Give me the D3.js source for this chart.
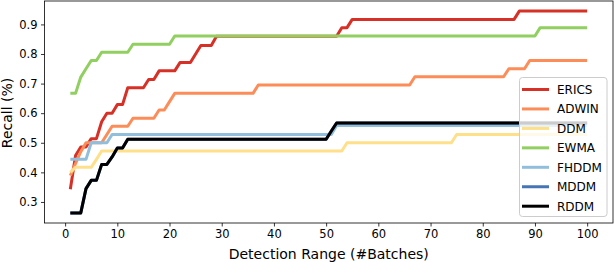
<!DOCTYPE html>
<html><head><meta charset="utf-8">
<script src="https://cdn.jsdelivr.net/npm/d3@7"></script>
<style>body{margin:0;background:#fff}svg{display:block;font-family:"DejaVu Sans",sans-serif}</style>
</head><body><svg id="c" width="614" height="262"></svg>
<script>
const seriesNames = ["ERICS","ADWIN","DDM","EWMA","FHDDM","MDDM","RDDM"];
const seriesColors = ["#d73027","#fc8d59","#fee08b","#91cf60","#91bfdb","#4575b4","#000000"];
const xTicks = [0,10,20,30,40,50,60,70,80,90,100];
const yTicks = [0.3,0.4,0.5,0.6,0.7,0.8,0.9];
const batches = [1,2,3,4,5,6,7,8,9,10,11,12,13,14,15,16,17,18,19,20,21,22,23,24,25,26,27,28,29,30,31,32,33,34,35,36,37,38,39,40,41,42,43,44,45,46,47,48,49,50,51,52,53,54,55,56,57,58,59,60,61,62,63,64,65,66,67,68,69,70,71,72,73,74,75,76,77,78,79,80,81,82,83,84,85,86,87,88,89,90,91,92,93,94,95,96,97,98,99,100];

const erics = [.343,.457,.486,.486,.514,.514,.571,.600,.600,.629,
 .629,.686,.686,.686,.686,.714,.714,.743,.743,.743,
 .743,.771,.771,.771,.800,.829,.829,.829,.860,.860,
 .860,.860,.860,.860,.860,.860,.860,.860,.860,.860,
 .860,.860,.860,.860,.860,.860,.860,.860,.860,.860,
 .860,.860,.889,.889,.917,.917,.917,.917,.917,.917,
 .917,.917,.917,.917,.917,.917,.917,.917,.917,.917,
 .917,.917,.917,.917,.917,.917,.917,.917,.917,.917,
 .917,.917,.917,.917,.917,.917,.945,.945,.945,.945,
 .945,.945,.945,.945,.945,.945,.945,.945,.945,.945];
const adwin = [.389,.430,.470,.500,.500,.500,.500,.528,.556,.556,
 .556,.556,.583,.583,.583,.583,.583,.611,.611,.639,
 .667,.667,.667,.667,.667,.667,.667,.667,.667,.667,
 .667,.667,.667,.667,.667,.667,.695,.695,.695,.695,
 .695,.695,.695,.695,.695,.695,.695,.695,.695,.695,
 .695,.695,.695,.695,.695,.695,.695,.695,.695,.695,
 .695,.695,.695,.695,.695,.695,.723,.723,.723,.723,
 .723,.723,.723,.723,.723,.723,.723,.723,.723,.723,
 .723,.723,.723,.723,.750,.750,.750,.750,.778,.778,
 .778,.778,.778,.778,.778,.778,.778,.778,.778,.778];
const ddm = [.400,.417,.417,.417,.417,.444,.472,.472,.472,.472,
 .472,.472,.472,.472,.472,.472,.472,.472,.472,.472,
 .472,.472,.472,.472,.472,.472,.472,.472,.472,.472,
 .472,.472,.472,.472,.472,.472,.472,.472,.472,.472,
 .472,.472,.472,.472,.472,.472,.472,.472,.472,.472,
 .472,.472,.472,.500,.500,.500,.500,.500,.500,.500,
 .500,.500,.500,.500,.500,.500,.500,.500,.500,.500,
 .500,.500,.500,.500,.528,.528,.528,.528,.528,.528,
 .528,.528,.528,.528,.528,.528,.528,.528,.528,.528,
 .528,.528,.528,.528,.528,.528,.528,.528,.528,.528];
const ewma = [.667,.667,.722,.750,.778,.778,.806,.806,.806,.806,
 .806,.806,.833,.833,.833,.833,.833,.833,.833,.833,
 .861,.861,.861,.861,.861,.861,.861,.861,.861,.861,
 .861,.861,.861,.861,.861,.861,.861,.861,.861,.861,
 .861,.861,.861,.861,.861,.861,.861,.861,.861,.861,
 .861,.861,.861,.861,.861,.861,.861,.861,.861,.861,
 .861,.861,.861,.861,.861,.861,.861,.861,.861,.861,
 .861,.861,.861,.861,.861,.861,.861,.861,.861,.861,
 .861,.861,.861,.861,.861,.861,.861,.861,.861,.861,
 .889,.889,.889,.889,.889,.889,.889,.889,.889,.889];
const fhddm = [.444,.444,.444,.444,.500,.500,.500,.500,.528,.528,
 .528,.528,.528,.528,.528,.528,.528,.528,.528,.528,
 .528,.528,.528,.528,.528,.528,.528,.528,.528,.528,
 .528,.528,.528,.528,.528,.528,.528,.528,.528,.528,
 .528,.528,.528,.528,.528,.528,.528,.528,.528,.528,
 .528,.558,.558,.558,.558,.558,.558,.558,.558,.558,
 .558,.558,.558,.558,.558,.558,.558,.558,.558,.558,
 .558,.558,.558,.558,.558,.558,.558,.558,.558,.558,
 .558,.558,.558,.558,.558,.558,.558,.558,.558,.558,
 .558,.558,.558,.558,.558,.558,.558,.558,.558,.558];
const mddm = [.263,.263,.263,.345,.373,.373,.427,.427,.452,.482,
 .482,.512,.512,.512,.512,.512,.512,.512,.512,.512,
 .512,.512,.512,.512,.512,.512,.512,.512,.512,.512,
 .512,.512,.512,.512,.512,.512,.512,.512,.512,.512,
 .512,.512,.512,.512,.512,.512,.512,.512,.512,.512,
 .540,.567,.567,.567,.567,.567,.567,.567,.567,.567,
 .567,.567,.567,.567,.567,.567,.567,.567,.567,.567,
 .567,.567,.567,.567,.567,.567,.567,.567,.567,.567,
 .567,.567,.567,.567,.567,.567,.567,.567,.567,.567,
 .567,.567,.567,.567,.567,.567,.567,.567,.567,.567];
const rddm = [.263,.263,.263,.345,.373,.373,.427,.427,.452,.482,
 .482,.512,.512,.512,.512,.512,.512,.512,.512,.512,
 .512,.512,.512,.512,.512,.512,.512,.512,.512,.512,
 .512,.512,.512,.512,.512,.512,.512,.512,.512,.512,
 .512,.512,.512,.512,.512,.512,.512,.512,.512,.512,
 .540,.567,.567,.567,.567,.567,.567,.567,.567,.567,
 .567,.567,.567,.567,.567,.567,.567,.567,.567,.567,
 .567,.567,.567,.567,.567,.567,.567,.567,.567,.567,
 .567,.567,.567,.567,.567,.567,.567,.567,.567,.567,
 .567,.567,.567,.567,.567,.567,.567,.567,.567,.567];
const seriesValues = [erics, adwin, ddm, ewma, fhddm, mddm, rddm];

const svg = d3.select("#c");
const L = 44.5, R = 613, T = 1, B = 223;
const allVals = seriesValues.flat();
const ymin = d3.min(allVals), ymax = d3.max(allVals);
const ypad = (ymax - ymin) * 0.05;
const x = d3.scaleLinear().domain([1 - 99*0.05, 100 + 99*0.05]).range([L, R]);
const y = d3.scaleLinear().domain([ymin - ypad, ymax + ypad]).range([B, T]);

const line = d3.line().x((d,i)=>x(batches[i])).y(d=>y(d));
const g = svg.append("g");
seriesValues.forEach((vals, k) => {
  g.append("path").datum(vals).attr("d", line)
   .attr("fill","none").attr("stroke", seriesColors[k])
   .attr("stroke-width", 3).attr("stroke-linejoin","round");
});

// axes
const xa = svg.append("g").attr("transform", `translate(0,${B})`)
  .call(d3.axisBottom(x).tickValues(xTicks).tickSize(3.5).tickPadding(3.5).tickFormat(d3.format("d")));
const ya = svg.append("g").attr("transform", `translate(${L},0)`)
  .call(d3.axisLeft(y).tickValues(yTicks).tickSize(3.5).tickPadding(3.5).tickFormat(d3.format(".1f")));
[xa, ya].forEach(a => {
  a.select(".domain").remove();
  a.selectAll("line").attr("stroke","#000").attr("stroke-width",0.8);
  a.selectAll("text").attr("font-size","11.5px").attr("fill","#000").attr("font-family","DejaVu Sans");
});
svg.append("rect").attr("x",L).attr("y",T).attr("width",R-L).attr("height",B-T)
  .attr("fill","none").attr("stroke","#000").attr("stroke-width",0.8);

svg.append("text").attr("x",(L+R)/2).attr("y",259).attr("text-anchor","middle")
  .attr("font-size","14px").attr("fill","#000").text("Detection Range (#Batches)");
svg.append("text").attr("transform","translate(12,113) rotate(-90)").attr("text-anchor","middle")
  .attr("font-size","14px").attr("fill","#000").text("Recall (%)");

// legend
const lg = svg.append("g");
lg.append("rect").attr("x",519.5).attr("y",77.5).attr("width",87.5).attr("height",139)
  .attr("rx",3).attr("fill","#fff").attr("fill-opacity",0.8).attr("stroke","#ccc").attr("stroke-width",1);
seriesNames.forEach((n,i) => {
  const yy = 89.5 + i*19.45;
  lg.append("line").attr("x1",522).attr("x2",549).attr("y1",yy).attr("y2",yy)
    .attr("stroke",seriesColors[i]).attr("stroke-width",3);
  lg.append("text").attr("x",557).attr("y",yy).attr("dy","0.36em")
    .attr("font-size","12px").attr("fill","#000").text(n);
});
</script></body></html>
